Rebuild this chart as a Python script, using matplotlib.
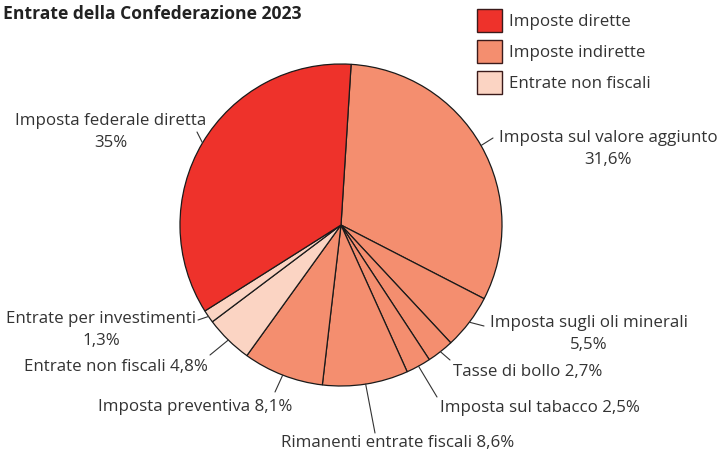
import numpy as np
import matplotlib.pyplot as plt
from matplotlib.patches import Patch

plt.rcParams['font.family'] = ['Open Sans', 'DejaVu Sans']

# data, clockwise from the top
labels = ['Imposta sul valore aggiunto\n31,6%', 'Imposta sugli oli minerali\n5,5%',
          'Tasse di bollo 2,7%', 'Imposta sul tabacco 2,5%',
          'Rimanenti entrate fiscali 8,6%', 'Imposta preventiva 8,1%',
          'Entrate non fiscali 4,8%', 'Entrate per investimenti\n1,3%',
          'Imposta federale diretta\n35%']
values = [31.6, 5.5, 2.7, 2.5, 8.6, 8.1, 4.8, 1.3, 35.0]
groups = [1, 1, 1, 1, 1, 1, 2, 2, 0]

group_names = ['Imposte dirette', 'Imposte indirette', 'Entrate non fiscali']
group_colors = ['#EE322B', '#F48E6F', '#FBD4C3']

# label text centre and leader line end, in figure pixels (from top)
text_pos = [(608, 149), (589, 334), (528, 372), (540, 408), (398, 443),
            (195, 407), (116, 367), (101, 330), (111, 132)]
line_end = [(493, 138), (484, 326), (450, 360), (437, 397), (375, 433),
            (275, 392), (210, 355), (198, 320), (197, 132)]

W, H = 720, 453
fig = plt.figure(figsize=(7.2, 4.53), dpi=100)
cx, cy, r = 341, 225, 161
ax = fig.add_axes([(cx - r) / W, (H - cy - r) / H, 2 * r / W, 2 * r / H])

colors = [group_colors[g] for g in groups]
wedges, _ = ax.pie(values, colors=colors, startangle=86.4, counterclock=False,
                   radius=1, wedgeprops=dict(edgecolor='#1a1a1a', linewidth=0.9))
ax.set_xlim(-1, 1)
ax.set_ylim(-1, 1)
ax.set_aspect('equal')

txt = '#333333'
fs = 12.2
for w, lab, tp, le in zip(wedges, labels, text_pos, line_end):
    mid = np.deg2rad((w.theta1 + w.theta2) / 2)
    ax.annotate('', xy=(np.cos(mid), np.sin(mid)), xycoords='data',
                xytext=(le[0], H - le[1]), textcoords='figure pixels',
                arrowprops=dict(arrowstyle='-', color='#333333', lw=0.8,
                                shrinkA=0, shrinkB=0))
    fig.text(tp[0] / W, 1 - tp[1] / H, lab, ha='center', va='center',
             fontsize=fs, color=txt, linespacing=1.45, multialignment='center')

fig.text(3 / W, 1 - 14 / H, 'Entrate della Confederazione 2023', ha='left',
         va='center', fontsize=12.6, fontweight='bold', color='#222222')

handles = [Patch(facecolor=c, edgecolor='#3a1a1a', linewidth=1) for c in group_colors]
fig.legend(handles, group_names, loc='upper left',
           bbox_to_anchor=(470 / W, 1 - 2 / H), frameon=False, fontsize=fs,
           handlelength=1.48, handleheight=1.72, labelspacing=0.48,
           handletextpad=0.4, borderaxespad=0, labelcolor=txt)

fig.savefig('out.png', dpi=100)
